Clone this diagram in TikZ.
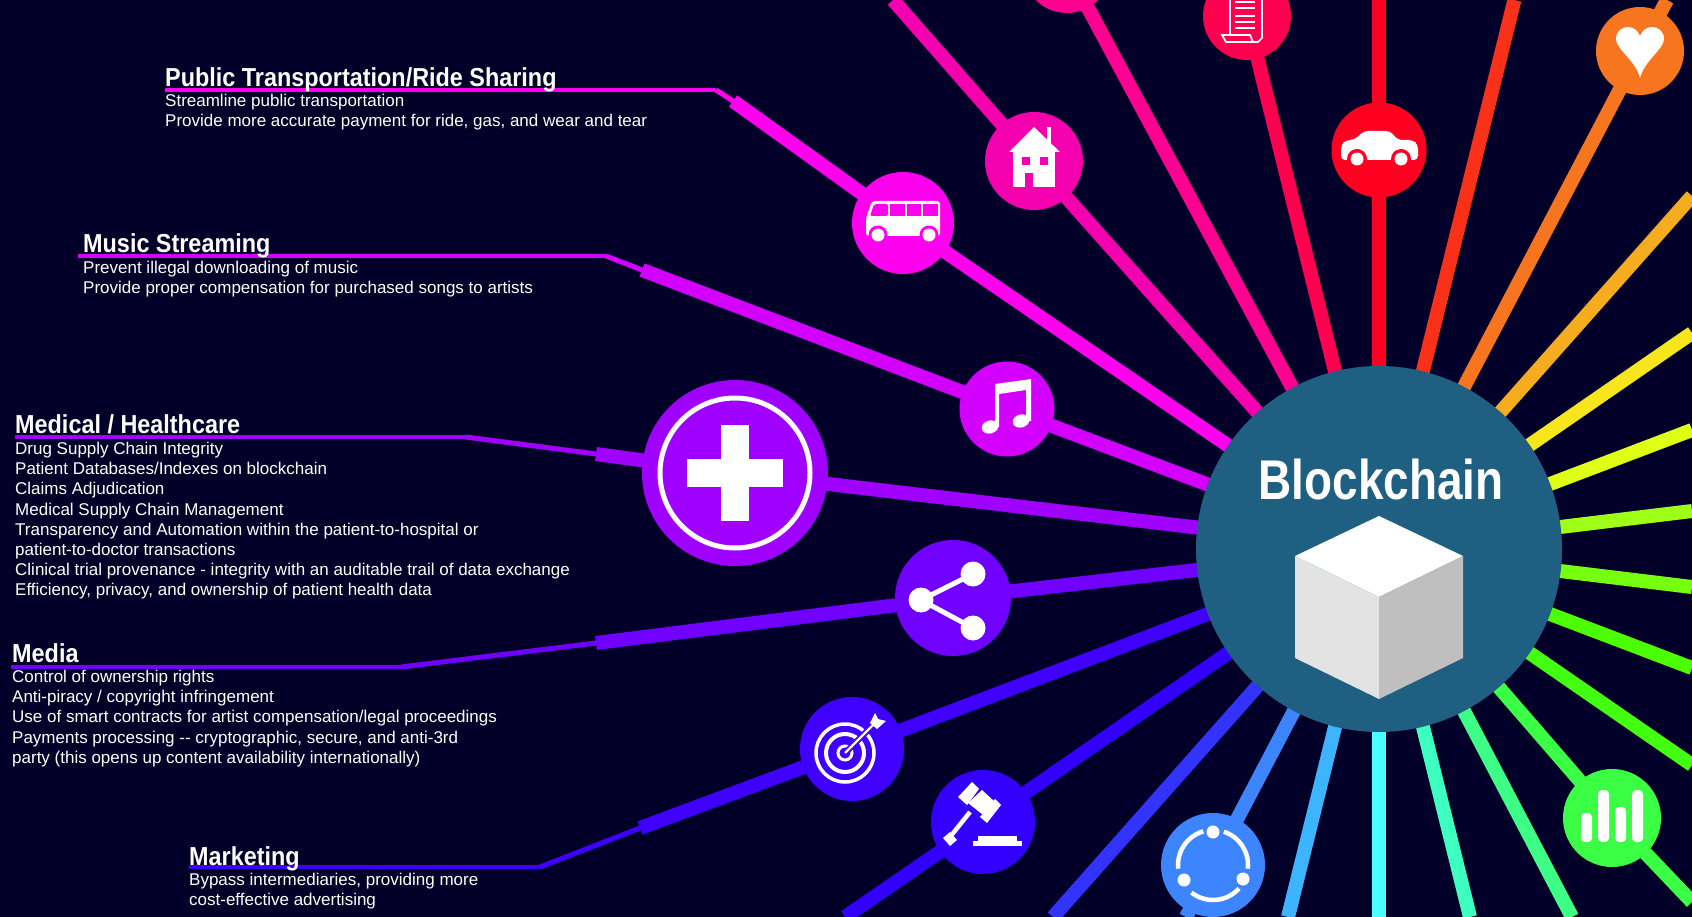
\documentclass[tikz,border=0pt]{standalone}
\usepackage{fontspec}
\usetikzlibrary{backgrounds}
\setmainfont{Liberation Sans}
\newfontfamily\headfont[FakeStretch=0.9,UprightFont=*-Bold]{Liberation Sans}
\newfontfamily\bodyfont{Liberation Sans}
\newfontfamily\hubfont[FakeStretch=0.82,UprightFont=*-Bold]{Liberation Sans}
\definecolor{bgc}{HTML}{020028}
\definecolor{hubc}{HTML}{1F5F82}
\definecolor{c090}{HTML}{FF0020}
\definecolor{c076}{HTML}{F93119}
\definecolor{c062}{HTML}{F8751F}
\definecolor{c048}{HTML}{F5AC1E}
\definecolor{c034}{HTML}{F8E61D}
\definecolor{c020}{HTML}{DFFF16}
\definecolor{c007}{HTML}{A0FF16}
\definecolor{d007}{HTML}{76FF0E}
\definecolor{d020}{HTML}{4BFF00}
\definecolor{d034}{HTML}{42FF12}
\definecolor{d048}{HTML}{3AFF44}
\definecolor{d062}{HTML}{3EFF85}
\definecolor{d076}{HTML}{3DFFC0}
\definecolor{d090}{HTML}{49FFFF}
\definecolor{d104}{HTML}{3DB4FF}
\definecolor{d118}{HTML}{3D85FF}
\definecolor{d131}{HTML}{3333FF}
\definecolor{d145}{HTML}{3300FF}
\definecolor{d159}{HTML}{4000FF}
\definecolor{d173}{HTML}{7000FF}
\definecolor{c173}{HTML}{A000FF}
\definecolor{c159}{HTML}{D400FF}
\definecolor{c145}{HTML}{FF00EE}
\definecolor{c131}{HTML}{F500AF}
\definecolor{c118}{HTML}{FF0090}
\definecolor{c104}{HTML}{FF0050}
\tikzset{
  spoke/.style={line width=14pt,draw=#1},
  leaderdiag/.style={line width=5pt,draw=#1},
  leaderflat/.style={line width=3.2pt,draw=#1},
  iconnode/.style={circle,inner sep=0pt,minimum size=#1},
  heading/.style={anchor=base west,inner sep=0pt,text=white,font=\headfont\fontsize{26}{26}\selectfont},
  bodytext/.style={anchor=north west,inner sep=0pt,text=white,align=left,
     font=\bodyfont\fontsize{17}{20.2}\selectfont},
  hubtext/.style={inner sep=0pt,text=white,font=\hubfont\fontsize{56}{56}\selectfont},
  iconline/.style={draw=white,fill=none}
}
\begin{document}
\begin{tikzpicture}[x=1pt,y=-1pt]
\useasboundingbox (0,0) rectangle (1692,917);
\begin{scope}[on background layer]
  \fill[bgc] (0,0) rectangle (1692,917);
\end{scope}
% hub
\node[circle,fill=hubc,inner sep=0pt,minimum size=366pt] (hub) at (1379,549) {};
% icon discs
\node[iconnode=95pt,fill=c090] (car) at (1379,150) {};
\node[iconnode=88pt,fill=c062] (heart) at (1640,51) {};
\node[iconnode=88pt,fill=c104] (scroll) at (1247,16) {};
\begin{scope}
  \clip (0,0) rectangle (1692,917);
  \node[iconnode=88pt,fill=c118] (pink) at (1067,-31) {};
\end{scope}
\node[iconnode=98pt,fill=c131] (house) at (1034,161) {};
\node[iconnode=102pt,fill=c145] (bus) at (903,223) {};
\node[iconnode=95pt,fill=c159] (music) at (1007,409) {};
\node[iconnode=186pt,fill=c173] (med) at (735,473) {};
\node[iconnode=116pt,fill=d173] (share) at (953,598) {};
\node[iconnode=104pt,fill=d159] (target) at (852,749) {};
\node[iconnode=104pt,fill=d145] (gavel) at (983,822) {};
\node[iconnode=104pt,fill=d118] (ringi) at (1213,865) {};
\node[iconnode=98pt,fill=d048] (chart) at (1612,818) {};
% free ends
\coordinate (e090) at (1379,0);
\coordinate (e076) at (1514.4,0);
\coordinate (e062) at (1667,0);
\coordinate (e048) at (1692,196);
\coordinate (e034) at (1692,333);
\coordinate (e020) at (1692,430);
\coordinate (e007) at (1692,511);
\coordinate (f007) at (1692,587);
\coordinate (f020) at (1692,668);
\coordinate (f034) at (1692,765);
\coordinate (f048) at (1692,902);
\coordinate (f062) at (1572,917);
\coordinate (f076) at (1470,917);
\coordinate (f090) at (1379,917);
\coordinate (f104) at (1288,917);
\coordinate (f118) at (1186,917);
\coordinate (f131) at (1053,917);
\coordinate (f145) at (845,917);
\coordinate (e131) at (893,0);
% leader points
\coordinate (k1) at (733,101); \coordinate (k1b) at (716,90); \coordinate (k1c) at (165,90);
\coordinate (k2) at (642,270); \coordinate (k2b) at (606,256); \coordinate (k2c) at (78,256);
\coordinate (k3) at (596,454); \coordinate (k3b) at (466,437); \coordinate (k3c) at (15,437);
\coordinate (k4) at (596,643); \coordinate (k4b) at (401,667); \coordinate (k4c) at (11,667);
\coordinate (k5) at (640,828); \coordinate (k5b) at (540,867); \coordinate (k5c) at (189,867);
\begin{scope}[on background layer]
  \draw[spoke=c090] (hub.center) -- (car.center) -- (e090);
  \draw[spoke=c076] (hub.center) -- (e076);
  \draw[spoke=c062] (hub.center) -- (heart.center) -- (e062);
  \draw[spoke=c048] (hub.center) -- (e048);
  \draw[spoke=c034] (hub.center) -- (e034);
  \draw[spoke=c020] (hub.center) -- (e020);
  \draw[spoke=c007] (hub.center) -- (e007);
  \draw[spoke=d007] (hub.center) -- (f007);
  \draw[spoke=d020] (hub.center) -- (f020);
  \draw[spoke=d034] (hub.center) -- (f034);
  \draw[spoke=d048] (hub.center) -- (chart.center) -- (f048);
  \draw[spoke=d062] (hub.center) -- (f062);
  \draw[spoke=d076] (hub.center) -- (f076);
  \draw[spoke=d090] (hub.center) -- (f090);
  \draw[spoke=d104] (hub.center) -- (f104);
  \draw[spoke=d118] (hub.center) -- (ringi.center) -- (f118);
  \draw[spoke=d131] (hub.center) -- (f131);
  \draw[spoke=d145] (hub.center) -- (gavel.center) -- (f145);
  \draw[spoke=d159] (hub.center) -- (target.center) -- (k5);
  \draw[spoke=d173] (hub.center) -- (share.center) -- (k4);
  \draw[spoke=c173] (hub.center) -- (med.center) -- (k3);
  \draw[spoke=c159] (hub.center) -- (music.center) -- (k2);
  \draw[spoke=c145] (hub.center) -- (bus.center) -- (k1);
  \draw[spoke=c131] (hub.center) -- (house.center) -- (e131);
  \draw[spoke=c118] (hub.center) -- (pink.center);
  \draw[spoke=c104] (hub.center) -- (scroll.center);
  \draw[leaderdiag=c145] (k1) -- (k1b); \draw[leaderflat=c145] (k1b) -- (k1c);
  \draw[leaderdiag=c159] (k2) -- (k2b); \draw[leaderflat=c159] (k2b) -- (k2c);
  \draw[leaderdiag=c173] (k3) -- (k3b); \draw[leaderflat=c173] (k3b) -- (k3c);
  \draw[leaderdiag=d173] (k4) -- (k4b); \draw[leaderflat=d173] (k4b) -- (k4c);
  \draw[leaderdiag=d159] (k5) -- (k5b); \draw[leaderflat=d159] (k5b) -- (k5c);
\end{scope}
% hub contents
\node[hubtext] (hubt) at (1381,479) {Blockchain};
\fill[white] (1379,516) -- (1463,556) -- (1379,597) -- (1295,556) -- cycle;
\fill[black!11] (1295,556) -- (1379,597) -- (1379,699) -- (1295,658) -- cycle;
\fill[black!25] (1463,556) -- (1379,597) -- (1379,699) -- (1463,658) -- cycle;
% texts
\node[heading] (t1) at (165,87) {Public Transportation/Ride Sharing};
\node[bodytext] (b1) at (165,94) {Streamline public transportation\\Provide more accurate payment for ride, gas, and wear and tear};
\node[heading] (t2) at (83,253) {Music Streaming};
\node[bodytext] (b2) at (83,261) {Prevent illegal downloading of music\\Provide proper compensation for purchased songs to artists};
\node[heading] (t3) at (15,433) {Medical / Healthcare};
\node[bodytext] (b3) at (15,442) {Drug Supply Chain Integrity\\Patient Databases/Indexes on blockchain\\Claims Adjudication\\Medical Supply Chain Management\\Transparency and Automation within the patient-to-hospital or\\patient-to-doctor transactions\\Clinical trial provenance - integrity with an auditable trail of data exchange\\Efficiency, privacy, and ownership of patient health data};
\node[heading] (t4) at (12,662) {Media};
\node[bodytext] (b4) at (12,670) {Control of ownership rights\\Anti-piracy / copyright infringement\\Use of smart contracts for artist compensation/legal proceedings\\Payments processing -- cryptographic, secure, and anti-3rd\\party (this opens up content availability internationally)};
\node[heading] (t5) at (189,865) {Marketing};
\node[bodytext] (b5) at (189,873) {Bypass intermediaries, providing more\\cost-effective advertising};
% icons
\begin{scope}[shift={(735,473)}]
  \draw[iconline,line width=5pt] (0,0) circle[radius=75];
  \fill[white] (-14,-48) rectangle (14,48);
  \fill[white] (-48,-14) rectangle (48,14);
\end{scope}
\begin{scope}[shift={(903,223)}]
  \fill[white,rounded corners=3pt] (-37,13) -- (-37,-5) -- (-31,-22) -- (37,-22) -- (37,13) -- cycle;
  \fill[c145,rounded corners=2pt] (-29,-19) -- (-15,-19) -- (-15,-7) -- (-33,-7) -- cycle;
  \fill[c145] (-13,-19) rectangle (2,-7);
  \fill[c145] (4,-19) rectangle (18,-7);
  \fill[c145] (20,-19) rectangle (35,-7);
  \foreach \wx in {-25,26}{
    \fill[c145] (\wx,12) circle[radius=9.5];
    \fill[white] (\wx,12) circle[radius=6.5];
  }
\end{scope}
\begin{scope}[shift={(1034,161)}]
  \fill[white] (13,-34) rectangle (17,-15);
  \fill[white] (0,-34) -- (26,-9) -- (-25,-9) -- cycle;
  \fill[white] (-21,-9) rectangle (21,26);
  \fill[c131] (-12,-4) rectangle (-4,4);
  \fill[c131] (6,-4) rectangle (14,4);
  \fill[c131] (-9,12) rectangle (-1,26);
\end{scope}
\begin{scope}[shift={(1007,409)}]
  \fill[white,shift={(-17,18)},rotate=15] (0,0) ellipse[x radius=8.5,y radius=6.5];
  \fill[white,shift={(14,12)},rotate=15] (0,0) ellipse[x radius=8.5,y radius=6.5];
  \fill[white] (-12,-25) -- (24,-30) -- (24,12) -- (19,12) -- (19,-19) -- (-8,-15) -- (-8,18) -- (-12,18) -- cycle;
\end{scope}
\begin{scope}[shift={(953,598)}]
  \draw[iconline,line width=5pt] (20,-24) -- (-32,2) -- (20,30);
  \fill[white] (20,-24) circle[radius=12.5];
  \fill[white] (-32,2) circle[radius=12.5];
  \fill[white] (20,30) circle[radius=12.5];
\end{scope}
\begin{scope}[shift={(845,753)}]
  \draw[iconline,line width=3.5pt] (0,0) circle[radius=29];
  \draw[iconline,line width=4pt] (0,0) circle[radius=19];
  \draw[iconline,line width=3pt] (0,0) circle[radius=7];
  \draw[d159,line width=6pt] (2,-2) -- (27,-27);
  \draw[iconline,line width=2.4pt] (0,0) -- (30,-30);
  \fill[white] (25,-30) -- (30,-40) -- (33,-34) -- (41,-32) -- (32,-24) -- cycle;
\end{scope}
\begin{scope}[shift={(982,822)}]
  \fill[white] (-10,-40) -- (-3,-33) -- (-15,-17) -- (-24,-25) -- cycle;
  \fill[white] (0,-32) -- (13,-20) -- (1,-7) -- (-14,-19) -- cycle;
  \fill[white] (13,-23) -- (19,-17) -- (5,1) -- (-2,-5) -- cycle;
  \draw[iconline,line width=4.5pt] (-12,-10) -- (-32,15);
  \fill[white] (-39,16) -- (-32,10) -- (-25,18) -- (-32,24) -- cycle;
  \fill[white] (-9,19) rectangle (40,24);
  \fill[white] (-4,14) rectangle (35,19);
\end{scope}
\begin{scope}[shift={(1213,865)}]
  \draw[iconline,line width=4.5pt] (-72:35) arc[start angle=-72,end angle=6,radius=35];
  \draw[iconline,line width=4.5pt] (42:35) arc[start angle=42,end angle=128,radius=35];
  \draw[iconline,line width=4.5pt] (174:35) arc[start angle=174,end angle=254,radius=35];
  \fill[white] (0,-33) circle[radius=6.5];
  \fill[white] (-29,15) circle[radius=6.5];
  \fill[white] (30,14) circle[radius=6.5];
\end{scope}
\begin{scope}[shift={(1612,818)}]
  \fill[white,rounded corners=4pt] (-31,24) -- (-31,-5) -- (-20,-5) -- (-20,24) -- cycle;
  \fill[white,rounded corners=4pt] (-14,24) -- (-14,-28) -- (-3,-28) -- (-3,24) -- cycle;
  \fill[white,rounded corners=4pt] (3,24) -- (3,-11) -- (14,-11) -- (14,24) -- cycle;
  \fill[white,rounded corners=4pt] (20,24) -- (20,-28) -- (31,-28) -- (31,24) -- cycle;
\end{scope}
\begin{scope}[shift={(1379,150)}]
  \fill[white,rounded corners=4pt] (-38,10) -- (-38,-5) -- (-33,-10) -- (-25,-10) -- (-15,-19) -- (11,-19) -- (19,-10) -- (34,-10) -- (39,-5) -- (39,10) -- cycle;
  \foreach \wx in {-22,22}{
    \fill[c090] (\wx,9) circle[radius=10];
    \fill[white] (\wx,9) circle[radius=6.5];
  }
\end{scope}
\begin{scope}[shift={(1247,16)}]
  \clip (-50,-16) rectangle (50,60);
  \draw[iconline,line width=1.7pt] (-17,-16) -- (-17,19);
  \draw[iconline,line width=1.7pt] (15,-16) -- (15,22) -- (11,26) -- (-21,26) -- (-25,19) -- (3,19) -- (6,26);
  \foreach \ly in {-14,-8,0,6,12}{
    \draw[iconline,line width=1.7pt] (-12,\ly) -- (8,\ly);
  }
\end{scope}
\begin{scope}[shift={(1640,51)}]
  \fill[white] (0,27) .. controls (-4,10) and (-24,-2) .. (-24,-12) .. controls (-24,-20) and (-18,-24) .. (-12,-24) .. controls (-6,-24) and (-2,-20) .. (0,-15) .. controls (2,-20) and (6,-24) .. (12,-24) .. controls (18,-24) and (24,-20) .. (24,-12) .. controls (24,-2) and (4,10) .. (0,27) -- cycle;
\end{scope}
\end{tikzpicture}
\end{document}
